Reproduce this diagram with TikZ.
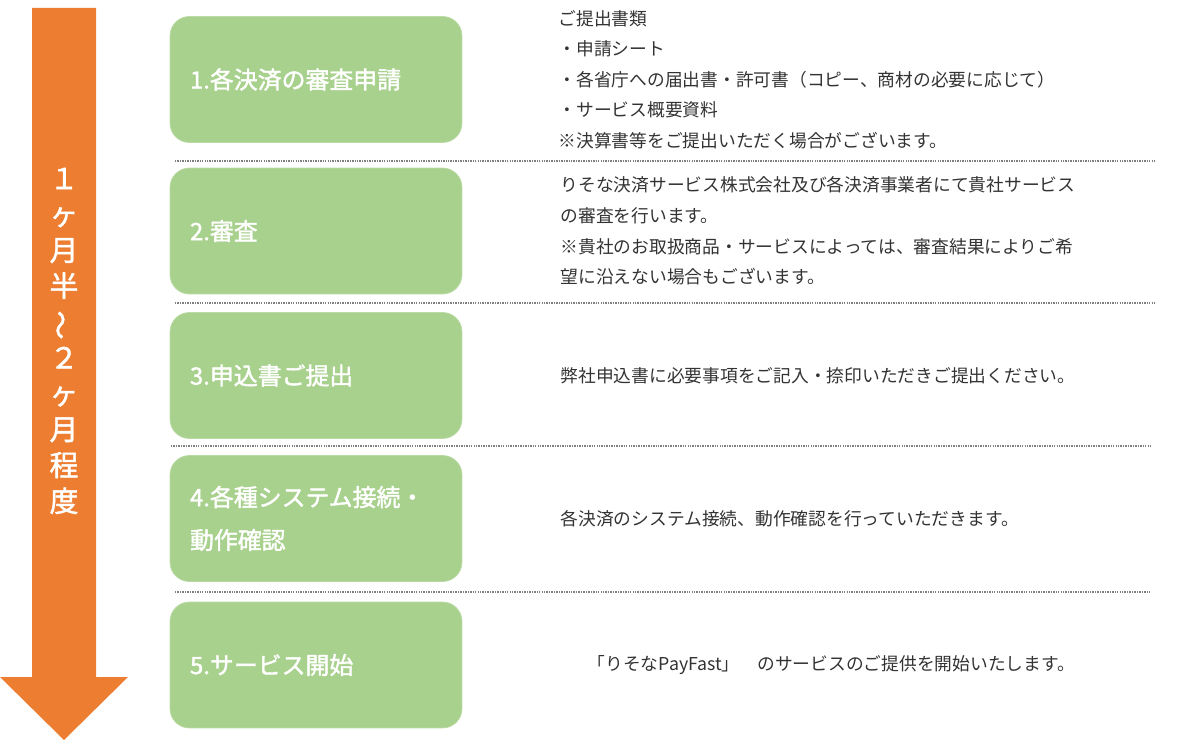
\documentclass[tikz,border=0pt]{standalone}
\usepackage{fontspec}
\setmainfont{Noto Sans CJK JP}
\newfontfamily\stepfont{Noto Sans CJK JP}[FakeBold=1.6]
\usetikzlibrary{positioning}
\definecolor{flowgreen}{HTML}{A9D18E}
\definecolor{floworange}{HTML}{ED7D31}
\definecolor{notegray}{HTML}{333333}
\begin{document}
\begin{tikzpicture}[x=0.02cm, y=-0.02cm,
    stepbox/.style={rectangle, rounded corners=11pt, fill=flowgreen,
        draw=flowgreen!80!white, minimum width=5.84cm, minimum height=2.52cm,
        text width=5.04cm, align=left, inner sep=0pt, text=white,
        font=\stepfont\fontsize{13.6}{24.4}\selectfont},
    note/.style={anchor=west, inner sep=0pt, align=left, text=notegray,
        font=\fontsize{10.1}{17.4}\selectfont},
    period/.style={align=center, inner sep=0pt, text=white,
        font=\stepfont\fontsize{16.4}{20.4}\selectfont},
    separator/.style={gray, line width=1pt, dash pattern=on 0.8pt off 0.6pt}
]
    \useasboundingbox (0,0) rectangle (1200,740);
    % time arrow
    \fill[floworange] (32,8) -- (96,8) -- (96,677) -- (128,677) -- (64,740)
        -- (0,677) -- (32,677) -- cycle;
    \node[period] (period) at (64,341)
        {１\\ヶ\\月\\半\\\rotatebox[origin=c]{90}{～}\\２\\ヶ\\月\\程\\度};
    % steps
    \node[stepbox] (step1) at (316,79.5) {1.各決済の審査申請};
    \node[stepbox] (step2) at (316,231) {2.審査};
    \node[stepbox] (step3) at (316,375.5) {3.申込書ご提出};
    \node[stepbox] (step4) at (316,518.5) {4.各種システム接続・\\動作確認};
    \node[stepbox] (step5) at (316,665) {5.サービス開始};
    % notes
    \node[note, right=1.92cm of step1] (note1) {ご提出書類\\・申請シート\\・各省庁への届出書・許可書（コピー、商材の必要に応じて）\\・サービス概要資料\\※決算書等をご提出いただく場合がございます。};
    \node[note, right=1.96cm of step2] (note2) {りそな決済サービス株式会社及び各決済事業者にて貴社サービス\\の審査を行います。\\※貴社のお取扱商品・サービスによっては、審査結果によりご希\\望に沿えない場合もございます。};
    \node[note, right=1.96cm of step3] (note3) {弊社申込書に必要事項をご記入・捺印いただきご提出ください。};
    \node[note, right=1.96cm of step4] (note4) {各決済のシステム接続、動作確認を行っていただきます。};
    \node[note, right=2.5cm of step5] (note5) {「りそなPayFast」　のサービスのご提供を開始いたします。};
    % separators
    \draw[separator] (175,161) -- (1155,161);
    \draw[separator] (175,303) -- (1155,303);
    \draw[separator] (171,446) -- (1150,446);
    \draw[separator] (175,592) -- (1150,592);
\end{tikzpicture}
\end{document}
